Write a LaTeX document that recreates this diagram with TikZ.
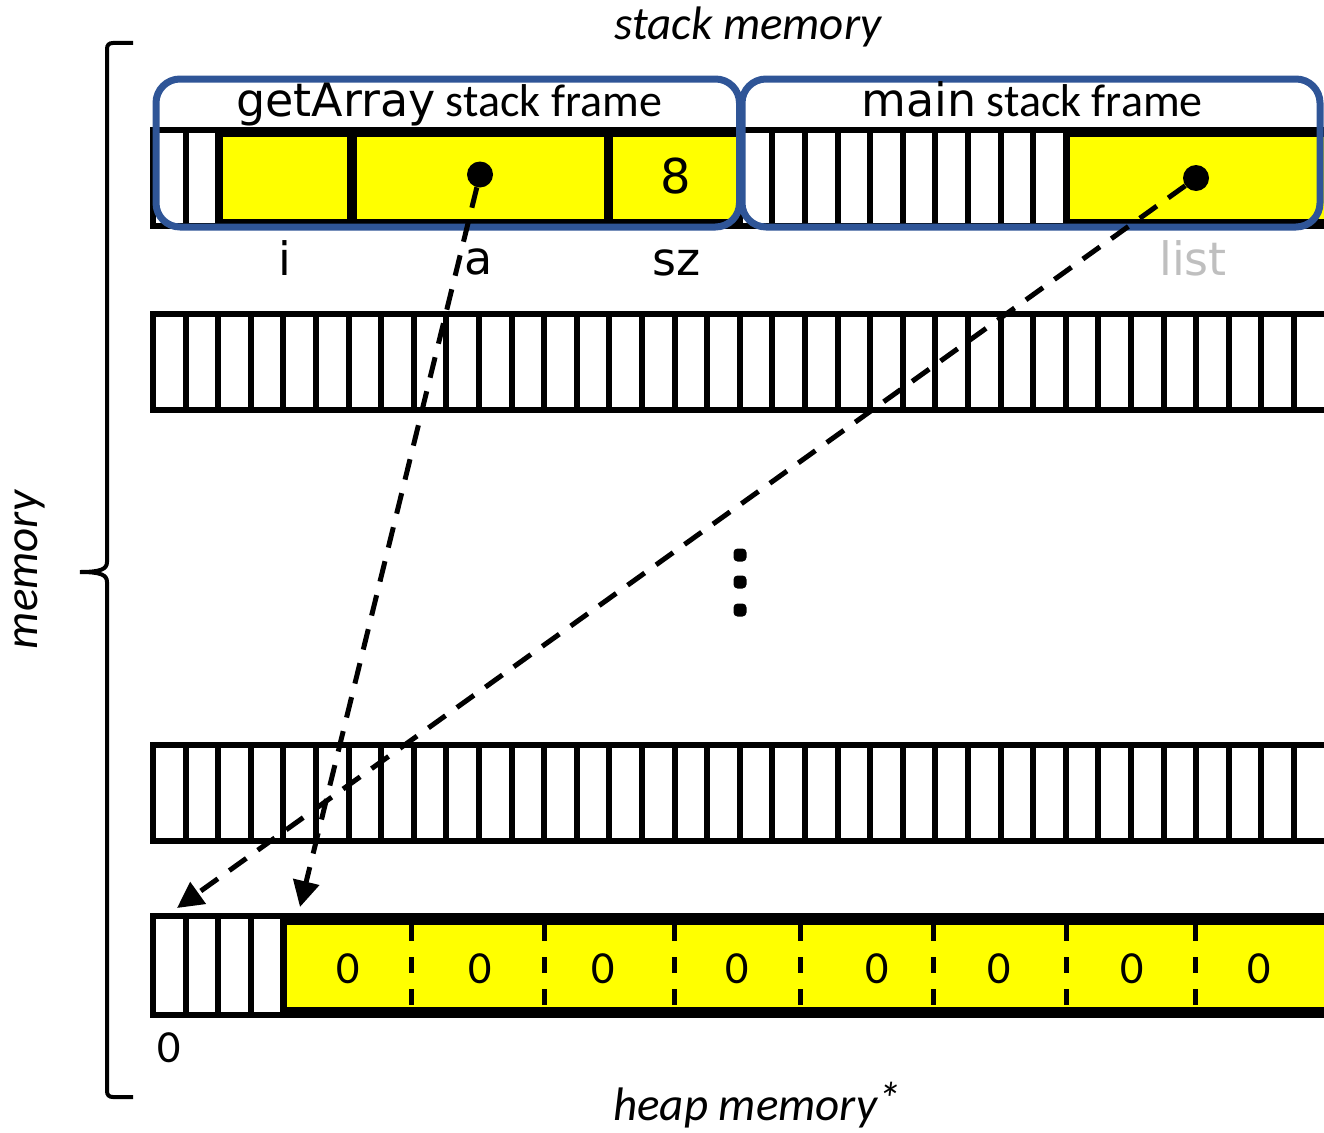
\documentclass[tikz,border=0pt]{standalone}
\usepackage{fontspec}
\setmainfont{Carlito}
\newfontfamily\comicfont{DejaVu Sans}
\usetikzlibrary{arrows.meta}
\definecolor{frameblue}{HTML}{2F5597}
\definecolor{cellyellow}{HTML}{FFFF00}
\definecolor{listgrey}{HTML}{BFBFBF}
\tikzset{
  rowbg/.style={fill=black},
  wcell/.style={fill=white},
  ycell/.style={fill=cellyellow, draw=none, inner sep=0pt},
  stackframe/.style={draw=frameblue, line width=7pt, rounded corners=24pt, inner sep=0pt},
  ptr/.style={line width=5pt, dash pattern=on 21pt off 14pt, -{Triangle[length=26pt,width=26pt]}},
  pdot/.style={circle, fill=black, inner sep=0pt, minimum size=26pt},
  ellipsisdot/.style={fill=black, rounded corners=4pt, minimum width=13pt, minimum height=13pt, inner sep=0pt},
  heapsep/.style={line width=5pt, dash pattern=on 16pt off 16pt},
  bigtxt/.style={font=\fontsize{46}{50}\selectfont, inner sep=0pt},
  comictxt/.style={font=\comicfont\fontsize{46}{50}\selectfont, inner sep=0pt},
  titletxt/.style={font=\itshape\fontsize{47}{50}\selectfont, inner sep=0pt},
}
\begin{document}
\begin{tikzpicture}[x=1pt,y=-1pt]
\useasboundingbox (0,0) rectangle (1324,1132);
\clip (0,0) rectangle (1324,1132);

% ---------- row 1: stack frames ----------
\fill[rowbg] (150,127) rectangle (1340,229);
\foreach \k in {0,1} \fill[wcell] ({156+32.6*\k},133) rectangle ({182.6+32.6*\k},223);
\foreach \k in {18,...,27} \fill[wcell] ({156+32.6*\k},133) rectangle ({182.6+32.6*\k},223);
\node[ycell, minimum width=124pt, minimum height=82pt] (icell) at (285,178) {};
\node[ycell, minimum width=247pt, minimum height=82pt] (acell) at (480.5,178) {};
\node[ycell, minimum width=124pt, minimum height=82pt] (szcell) at (675,178) {};
\node[ycell, minimum width=270pt, minimum height=82pt] (listcell) at (1205,178) {};
\node[comictxt, font=\comicfont\fontsize{48}{52}\selectfont] (eight) at (675.5,176) {8};
\node[pdot] (adot) at (480,174.5) {};
\node[pdot] (listdot) at (1196,178) {};

\node[stackframe, minimum width=583.5pt, minimum height=148pt] (gaframe) at (447.75,153) {};
\node[stackframe, minimum width=578pt, minimum height=148pt] (mainframe) at (1031,153) {};
\node[bigtxt, anchor=base] (galabel) at (449,116) {{\comicfont getArray} stack frame};
\node[bigtxt, anchor=base] (mainlabel) at (1032,116) {{\comicfont main} stack frame};

\node[comictxt, anchor=base] (ilab) at (285,275) {i};
\node[comictxt, anchor=base] (alab) at (479,274) {a};
\node[comictxt, anchor=base] (szlab) at (677,275) {sz};
\node[comictxt, anchor=base, text=listgrey] (listlab) at (1193,275) {list};

% ---------- row 2 ----------
\fill[rowbg] (150,311) rectangle (1340,413);
\foreach \k in {0,...,36} \fill[wcell] ({156+32.6*\k},317) rectangle ({182.6+32.6*\k},407);

% ---------- vertical ellipsis ----------
\node[ellipsisdot] (dotA) at (740,555) {};
\node[ellipsisdot] (dotB) at (740,582) {};
\node[ellipsisdot] (dotC) at (740,610) {};

% ---------- row 3 ----------
\fill[rowbg] (150,742) rectangle (1340,844);
\foreach \k in {0,...,36} \fill[wcell] ({156+32.6*\k},748) rectangle ({182.6+32.6*\k},838);

% ---------- heap row ----------
\fill[rowbg] (150,913) rectangle (1340,1018);
\foreach \k in {0,...,3} \fill[wcell] ({156+32.6*\k},919) rectangle ({182.6+32.6*\k},1012);
\node[ycell, minimum width=1053pt, minimum height=82pt] (heapdata) at (813.5,966) {};
\foreach \x in {411,544,674,800,933,1066,1195} \draw[heapsep] (\x,925) -- (\x,1007);
\foreach \x/\n in {348/hA,480/hB,603/hC,737/hD,877/hE,999/hF,1132/hG,1259/hH}
  \node[bigtxt] (\n) at (\x,969) {0};
\node[bigtxt] (zerolab) at (169,1048) {0};

% ---------- pointers ----------
\coordinate (tA) at (300,907);
\coordinate (tL) at (177,908);
\draw[ptr] (adot) -- (tA);
\draw[ptr] (listdot) -- (tL);

% ---------- brace and titles ----------
\draw[line width=4pt] (133,43) -- (113,43) .. controls (109,43) and (107,45) .. (107,49)
  -- (107,562) .. controls (107,569) and (101,572) .. (80,572)
  .. controls (101,572) and (107,575) .. (107,582)
  -- (107,1091) .. controls (107,1095) and (109,1097) .. (113,1097) -- (133,1097);
\node[titletxt, anchor=base] (stacktitle) at (748,40) {stack memory};
\node[titletxt, anchor=base] (heaptitle) at (757,1120) {heap memory\raisebox{5pt}{*}};
\node[titletxt, rotate=90] (memlabel) at (30,570) {memory};
\end{tikzpicture}
\end{document}
